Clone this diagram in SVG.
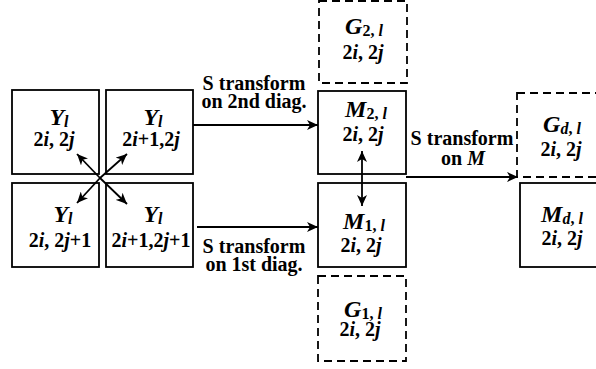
<svg xmlns="http://www.w3.org/2000/svg" width="596" height="369" viewBox="0 0 596 369">
<defs>
<marker id="ah" markerUnits="userSpaceOnUse" markerWidth="12" markerHeight="10" refX="11" refY="5" orient="auto-start-reverse">
<path d="M0,0 L11,5 L0,10 L3,5 Z" fill="#000"/>
</marker>
<style>
.box{fill:#fff;stroke:#000;stroke-width:1.8}
.dbox{fill:none;stroke:#000;stroke-width:1.8;stroke-dasharray:8,5}
.ln{fill:none;stroke:#000;stroke-width:1.8}
text{font-family:"Liberation Serif","Times New Roman",serif;font-weight:bold;fill:#000;text-anchor:middle}
.big{font-size:24px}
.sm{font-size:20px}
.sub{font-size:16px}
.it{font-style:italic}
.lbl{font-size:20px}
</style>
</defs>
<g id="y00">
<rect class="box" x="12" y="90" width="87" height="84"/>
<text class="big" x="59" y="125"><tspan class="it">Y</tspan><tspan class="sub it" dy="2">l</tspan></text>
<text class="sm" x="54" y="146">2<tspan class="it">i</tspan>, 2<tspan class="it">j</tspan></text>
</g>
<g id="y10">
<rect class="box" x="106" y="90" width="87" height="84"/>
<text class="big" x="153" y="125"><tspan class="it">Y</tspan><tspan class="sub it" dy="2">l</tspan></text>
<text class="sm" x="151" y="146">2<tspan class="it">i</tspan>+1,2<tspan class="it">j</tspan></text>
</g>
<g id="y01">
<rect class="box" x="12" y="183" width="87" height="84"/>
<text class="big" x="63" y="222"><tspan class="it">Y</tspan><tspan class="sub it" dy="2">l</tspan></text>
<text class="sm" x="60" y="247">2<tspan class="it">i</tspan>, 2<tspan class="it">j</tspan>+1</text>
</g>
<g id="y11">
<rect class="box" x="106" y="183" width="87" height="84"/>
<text class="big" x="153" y="222"><tspan class="it">Y</tspan><tspan class="sub it" dy="2">l</tspan></text>
<text class="sm" x="151" y="247">2<tspan class="it">i</tspan>+1,2<tspan class="it">j</tspan>+1</text>
</g>
<g id="g2">
<rect class="dbox" x="319" y="1" width="88" height="82"/>
<text class="big" x="364" y="34"><tspan class="it">G</tspan><tspan class="sub" dy="2">2,</tspan><tspan class="sub it" dx="4">l</tspan></text>
<text class="sm" x="363" y="59">2<tspan class="it">i</tspan>, 2<tspan class="it">j</tspan></text>
</g>
<g id="m2">
<rect class="box" x="318" y="91" width="88" height="83"/>
<text class="big" x="366" y="117"><tspan class="it">M</tspan><tspan class="sub" dy="2">2,</tspan><tspan class="sub it" dx="4">l</tspan></text>
<text class="sm" x="363" y="141">2<tspan class="it">i</tspan>, 2<tspan class="it">j</tspan></text>
</g>
<g id="m1">
<rect class="box" x="318" y="183" width="88" height="84"/>
<text class="big" x="364" y="229"><tspan class="it">M</tspan><tspan class="sub" dy="2">1,</tspan><tspan class="sub it" dx="4">l</tspan></text>
<text class="sm" x="361" y="252">2<tspan class="it">i</tspan>, 2<tspan class="it">j</tspan></text>
</g>
<g id="g1">
<rect class="dbox" x="318" y="276" width="88" height="85"/>
<text class="big" x="363" y="317"><tspan class="it">G</tspan><tspan class="sub" dy="2">1,</tspan><tspan class="sub it" dx="4">l</tspan></text>
<text class="sm" x="360" y="336">2<tspan class="it">i</tspan>, 2<tspan class="it">j</tspan></text>
</g>
<g id="gd">
<rect class="dbox" x="517" y="93" width="95" height="84"/>
<text class="big" x="562" y="132"><tspan class="it">G</tspan><tspan class="sub it" dy="2">d</tspan><tspan class="sub">,</tspan><tspan class="sub it" dx="4">l</tspan></text>
<text class="sm" x="561" y="156">2<tspan class="it">i</tspan>, 2<tspan class="it">j</tspan></text>
</g>
<g id="md">
<rect class="box" x="520" y="183" width="92" height="84"/>
<text class="big" x="562" y="222"><tspan class="it">M</tspan><tspan class="sub it" dy="2">d</tspan><tspan class="sub">,</tspan><tspan class="sub it" dx="4">l</tspan></text>
<text class="sm" x="562" y="245">2<tspan class="it">i</tspan>, 2<tspan class="it">j</tspan></text>
</g>
<g id="connectors">
<line class="ln" x1="100" y1="178" x2="77" y2="154" marker-end="url(#ah)"/>
<line class="ln" x1="100" y1="178" x2="127" y2="154" marker-end="url(#ah)"/>
<line class="ln" x1="100" y1="178" x2="77" y2="203" marker-end="url(#ah)"/>
<line class="ln" x1="100" y1="178" x2="127" y2="204" marker-end="url(#ah)"/>
<line class="ln" x1="193" y1="125" x2="318" y2="125" marker-end="url(#ah)"/>
<line class="ln" x1="197" y1="227" x2="318" y2="227" marker-end="url(#ah)"/>
<line class="ln" x1="362" y1="151" x2="362" y2="206" marker-start="url(#ah)" marker-end="url(#ah)"/>
<line class="ln" x1="406" y1="177" x2="518" y2="177" marker-end="url(#ah)"/>
<text class="lbl" x="254" y="90">S transform</text>
<text class="lbl" x="254" y="108">on 2nd diag.</text>
<text class="lbl" x="254" y="253">S transform</text>
<text class="lbl" x="254" y="271">on 1st diag.</text>
<text class="lbl" x="462" y="145">S transform</text>
<text class="lbl" x="463" y="165">on <tspan class="it">M</tspan></text>
</g>
</svg>
